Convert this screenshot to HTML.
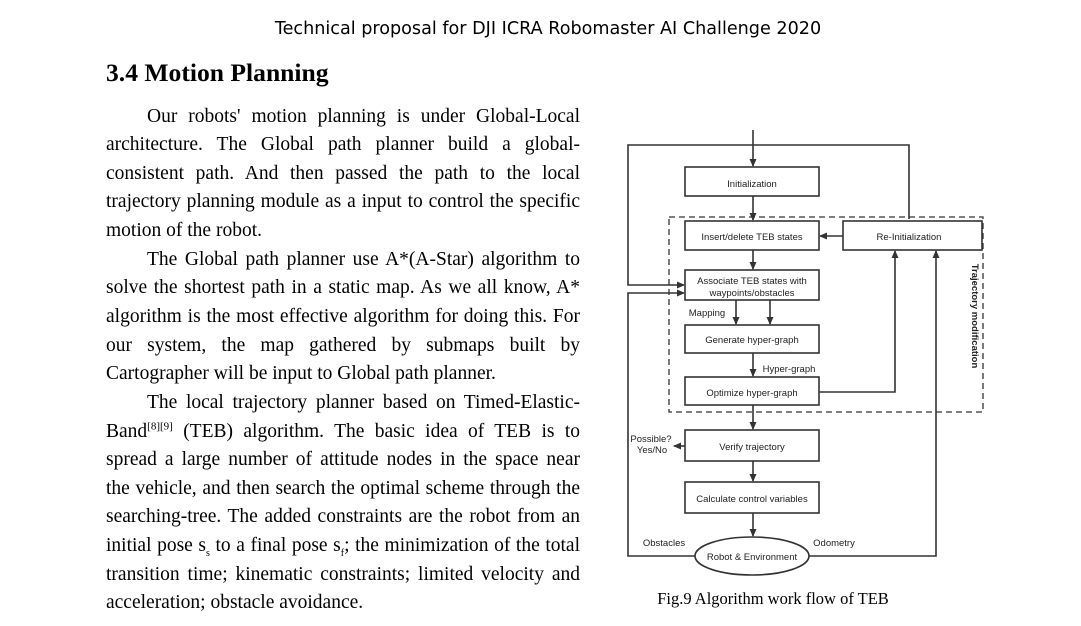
<!DOCTYPE html>
<html><head><meta charset="utf-8">
<style>
body{margin:0;width:1081px;height:626px;background:#fff;position:relative;overflow:hidden;font-family:"Liberation Serif",serif;color:#000}
.l{position:absolute;left:106px;width:474px;font-size:19.5px;line-height:20px;white-space:nowrap;text-align:justify;text-align-last:justify}
.n{text-align-last:left}
.hd{position:absolute;top:19px;left:0;width:1096px;text-align:center;font-family:"DejaVu Sans","Liberation Sans",sans-serif;font-size:17.6px}
.t{position:absolute;left:106px;top:58px;font-size:25.6px;font-weight:bold}
sup{font-size:11px;line-height:0}
sub{font-size:10px;line-height:0}
</style></head><body>
<div class="hd">Technical proposal for DJI ICRA Robomaster AI Challenge 2020</div>
<div class="t">3.4 Motion Planning</div>
<div class="l" style="top:107px;padding-left:41px;width:433px">Our robots' motion planning is under Global-Local</div>
<div class="l" style="top:135px">architecture. The Global path planner build a global-</div>
<div class="l" style="top:164px">consistent path. And then passed the path to the local</div>
<div class="l" style="top:192px">trajectory planning module as a input to control the specific</div>
<div class="l n" style="top:221px">motion of the robot.</div>
<div class="l" style="top:250px;padding-left:41px;width:433px">The Global path planner use A*(A-Star) algorithm to</div>
<div class="l" style="top:278px">solve the shortest path in a static map. As we all know, A*</div>
<div class="l" style="top:307px">algorithm is the most effective algorithm for doing this. For</div>
<div class="l" style="top:336px">our system, the map gathered by submaps built by</div>
<div class="l n" style="top:364px">Cartographer will be input to Global path planner.</div>
<div class="l" style="top:393px;padding-left:41px;width:433px">The local trajectory planner based on Timed-Elastic-</div>
<div class="l" style="top:422px">Band<sup>[8][9]</sup> (TEB) algorithm. The basic idea of TEB is to</div>
<div class="l" style="top:450px">spread a large number of attitude nodes in the space near</div>
<div class="l" style="top:479px">the vehicle, and then search the optimal scheme through the</div>
<div class="l" style="top:507px">searching-tree. The added constraints are the robot from an</div>
<div class="l" style="top:536px">initial pose s<sub>s</sub> to a final pose s<sub>f</sub>; the minimization of the total</div>
<div class="l" style="top:565px">transition time; kinematic constraints; limited velocity and</div>
<div class="l n" style="top:593px">acceleration; obstacle avoidance.</div>

<svg width="1081" height="626" style="position:absolute;left:0;top:0" font-family="'Liberation Sans',sans-serif" font-size="9.5">
<defs><marker id="a" markerWidth="8" markerHeight="8" refX="7" refY="4" orient="auto" markerUnits="userSpaceOnUse"><path d="M0,0.5 L8,4 L0,7.5z" fill="#333"/></marker></defs>
<g stroke="#333" stroke-width="1.6" fill="none">
<rect x="669" y="217" width="314" height="195" stroke-dasharray="6,4" stroke-width="1.3"/>
<rect x="685" y="167" width="134" height="29" fill="#fff"/>
<rect x="685" y="221" width="134" height="29" fill="#fff"/>
<rect x="843" y="221" width="139" height="29" fill="#fff"/>
<rect x="685" y="270" width="134" height="30" fill="#fff"/>
<rect x="685" y="325" width="134" height="28" fill="#fff"/>
<rect x="685" y="377" width="134" height="28" fill="#fff"/>
<rect x="685" y="430" width="134" height="31" fill="#fff"/>
<rect x="685" y="482" width="134" height="31" fill="#fff"/>
<ellipse cx="752" cy="556" rx="57" ry="19" fill="#fff"/>
<path d="M753,130 V166" marker-end="url(#a)"/>
<path d="M753,196 V220" marker-end="url(#a)"/>
<path d="M843,236 H820" marker-end="url(#a)"/>
<path d="M753,250 V269" marker-end="url(#a)"/>
<path d="M736,300 V324" marker-end="url(#a)"/>
<path d="M770,300 V324" marker-end="url(#a)"/>
<path d="M753,353 V376" marker-end="url(#a)"/>
<path d="M753,405 V429" marker-end="url(#a)"/>
<path d="M753,461 V481" marker-end="url(#a)"/>
<path d="M753,513 V536" marker-end="url(#a)"/>
<path d="M685,446 H674" marker-end="url(#a)"/>
<path d="M909,219 V145 H628 V285 H684" marker-end="url(#a)"/>
<path d="M695,556 H628 V293 H684" marker-end="url(#a)"/>
<path d="M819,392 H895 V251" marker-end="url(#a)"/>
<path d="M809,556 H936 V251" marker-end="url(#a)"/>
</g>
<g fill="#222" text-anchor="middle">
<text x="752" y="187">Initialization</text>
<text x="752" y="240">Insert/delete TEB states</text>
<text x="909" y="240">Re-Initialization</text>
<text x="752" y="284">Associate TEB states with</text>
<text x="752" y="296">waypoints/obstacles</text>
<text x="752" y="343">Generate hyper-graph</text>
<text x="752" y="396">Optimize hyper-graph</text>
<text x="752" y="450">Verify trajectory</text>
<text x="752" y="502">Calculate control variables</text>
<text x="752" y="560">Robot &amp; Environment</text>
<text x="651" y="442">Possible?</text>
<text x="652" y="453">Yes/No</text>
<text x="707" y="316">Mapping</text>
<text x="789" y="372">Hyper-graph</text>
<text x="664" y="546">Obstacles</text>
<text x="834" y="546">Odometry</text>
<text transform="translate(972,316) rotate(90)" font-weight="bold" font-size="9.5">Trajectory modification</text>
</g>
<text x="773" y="604" text-anchor="middle" font-family="'Liberation Serif',serif" font-size="16.5">Fig.9 Algorithm work flow of TEB</text>
</svg>
</body></html>
